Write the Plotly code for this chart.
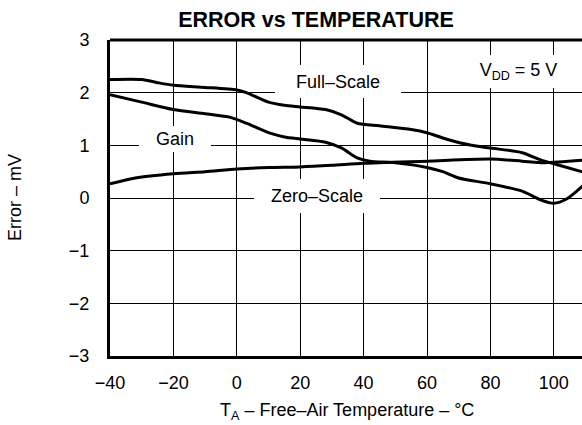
import plotly.graph_objects as go

# ---- data ----
fs_t = [-40, -30, -25, -20, -10, 0, 3, 10, 15, 20, 28, 33, 38, 45, 55, 60, 66, 74, 80, 90, 96, 100, 110]
fs_e = [2.25, 2.25, 2.19, 2.14, 2.10, 2.05, 2.00, 1.82, 1.76, 1.73, 1.68, 1.58, 1.42, 1.37, 1.30, 1.24, 1.12, 1.00, 0.95, 0.86, 0.72, 0.65, 0.48]

gain_t = [-40, -30, -20, -10, -2, 3, 10, 15, 20, 28, 33, 38, 42, 50, 60, 65, 70, 80, 90, 96, 100, 104, 110]
gain_e = [1.96, 1.82, 1.68, 1.60, 1.53, 1.42, 1.24, 1.16, 1.12, 1.06, 0.95, 0.76, 0.70, 0.67, 0.58, 0.50, 0.38, 0.27, 0.13, -0.04, -0.10, -0.02, 0.28]

zs_t = [-40, -32, -20, -10, 0, 10, 20, 30, 40, 60, 80, 90, 97, 110]
zs_e = [0.27, 0.38, 0.46, 0.50, 0.55, 0.58, 0.59, 0.62, 0.66, 0.70, 0.74, 0.70, 0.67, 0.72]

x_ticks = [-40, -20, 0, 20, 40, 60, 80, 100]
x_ticktext = ["\u221240", "\u221220", "0", "20", "40", "60", "80", "100"]
y_ticks = [-3, -2, -1, 0, 1, 2, 3]
y_ticktext = ["\u22123", "\u22122", "\u22121", "0", "1", "2", "3"]

FONT = "Liberation Sans, Arial, sans-serif"

fig = go.Figure()
for t, e in [(fs_t, fs_e), (gain_t, gain_e), (zs_t, zs_e)]:
    fig.add_trace(go.Scatter(x=t, y=e, mode="lines",
                             line=dict(color="black", width=3, shape="spline", smoothing=0.7),
                             showlegend=False, hoverinfo="skip"))

W, H = 582, 425
ml, mt, mb = 110, 40, 69
plot_w = W - ml
plot_h = H - mt - mb
px_per_unit = 3.17

fig.update_layout(
    width=W, height=H,
    margin=dict(l=ml, r=0, t=mt, b=mb, pad=0, autoexpand=False),
    paper_bgcolor="white", plot_bgcolor="white",
    font=dict(family=FONT, size=18, color="black"),
    title=dict(text="<b>ERROR vs TEMPERATURE</b>", font=dict(family=FONT, size=21.5, color="black"),
               xref="container", x=316 / W, xanchor="center",
               yref="container", y=1 - 19.5 / H, yanchor="middle"),
    xaxis=dict(range=[-40, -40 + plot_w / px_per_unit], tickvals=x_ticks, ticktext=x_ticktext,
               showgrid=True, gridcolor="black", gridwidth=1, zeroline=False,
               showline=True, linecolor="black", linewidth=3, mirror=False, automargin=False,
               ticks="", ticklabelstandoff=8, tickfont=dict(size=18)),
    yaxis=dict(range=[-3, 3], tickvals=y_ticks, ticktext=y_ticktext,
               showgrid=True, gridcolor="black", gridwidth=1, zeroline=False,
               showline=True, linecolor="black", linewidth=3, mirror=False, automargin=False,
               ticks="", ticklabelstandoff=14, tickfont=dict(size=18)),
)

# top border
fig.add_shape(type="line", xref="paper", yref="paper", x0=0, x1=1, y0=1, y1=1,
              line=dict(color="black", width=3))

def label(text, x, y, w, h):
    fig.add_annotation(text=text, x=x, y=y, xref="x", yref="y", showarrow=False,
                       xanchor="center", yanchor="middle", bgcolor="white",
                       width=w, height=h, borderpad=0, borderwidth=0,
                       font=dict(family=FONT, size=18, color="black"))

label("Full\u2013Scale", 32.0, 2.21, 126, 33)
label("Gain", -19.4, 1.12, 72, 26)
label("Zero\u2013Scale", 25.3, 0.04, 126, 34)
label("V<sub>DD</sub> = 5 V", 88.8, 2.4, 87, 33)

# axis titles
fig.add_annotation(text="Error \u2013 mV", xref="paper", yref="paper",
                   x=(15 - ml) / plot_w, y=0.5, textangle=-90, showarrow=False,
                   xanchor="center", yanchor="middle", font=dict(family=FONT, size=18))
fig.add_annotation(text="T<sub>A</sub> \u2013 Free\u2013Air Temperature \u2013 \u00b0C",
                   xref="paper", yref="paper", x=(347 - ml) / plot_w, y=(mt + plot_h - 411) / plot_h,
                   showarrow=False, xanchor="center", yanchor="middle",
                   font=dict(family=FONT, size=18))

fig.write_html("out.html", config={"displayModeBar": False},
               post_script="document.body.style.margin='0';document.body.style.overflow='hidden';")
